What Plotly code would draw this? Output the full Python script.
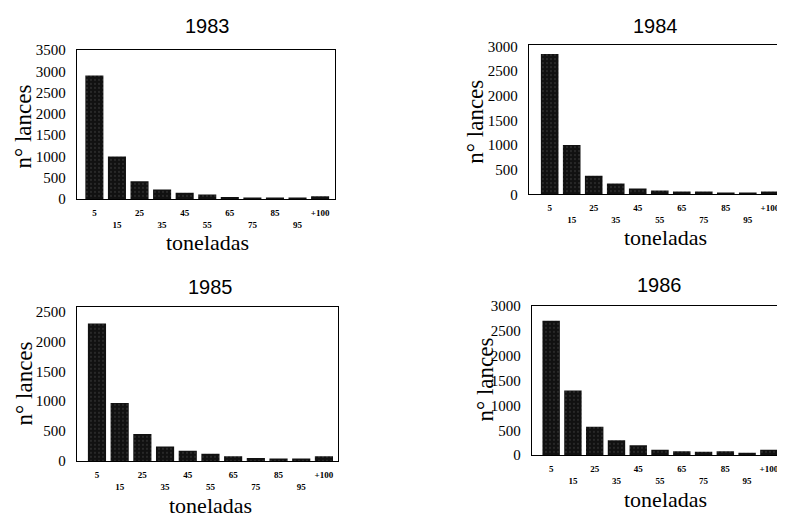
import plotly.graph_objects as go

categories = ["5", "15", "25", "35", "45", "55", "65", "75", "85", "95", "+100"]
years = ["1983", "1984", "1985", "1986"]
lances_1983 = [2900, 1000, 420, 225, 150, 110, 50, 40, 40, 40, 70]
lances_1984 = [2850, 1000, 380, 220, 120, 80, 60, 60, 40, 40, 60]
lances_1985 = [2300, 970, 450, 240, 170, 120, 80, 50, 40, 40, 80]
lances_1986 = [2700, 1300, 570, 300, 200, 110, 80, 70, 80, 50, 110]
series = [lances_1983, lances_1984, lances_1985, lances_1986]
y_tops = [3500, 3030, 2580, 3000]
x_title = "toneladas"
y_title = "n° lances"

W, H = 785, 523
OFF = 8  # page body margin offset
# plot boxes in reference pixels: left, right, top, bottom
boxes = [(77, 335, 43, 197), (529, 785, 38, 192), (77, 338, 308, 467), (532, 785, 307, 461)]
x_ranges = [[-0.77, 10.66], [-0.94, 10.69], [-0.88, 10.62], [-0.88, 10.74]]
title_pos = [(207, 18), (655, 18), (210, 288), (659, 286)]
ylab_pos = [(24, 122), (476, 117), (24, 387), (486, 383)]
xlab_pos = [(207, 242), (665, 237), (210, 513), (665, 507)]


def px(x):
    return (x - OFF) / W


def py(y):
    return 1 - (y - OFF) / H


ticktext = [c if i % 2 == 0 else "\u00a0<br>" + c for i, c in enumerate(categories)]

fig = go.Figure()
annotations = []
for k in range(4):
    l, r, t, b = boxes[k]
    sx = "" if k == 0 else str(k + 1)
    fig.add_trace(go.Bar(
        x=categories, y=series[k], xaxis="x" + sx, yaxis="y" + sx,
        marker=dict(color="#111111", line=dict(width=0),
                    pattern=dict(shape=".", fgcolor="#4a4a4a", bgcolor="#111111",
                                 size=4, solidity=0.1, fillmode="replace")),
        showlegend=False,
    ))
    right_side = k in (1, 3)
    fig.update_layout(**{
        "xaxis" + sx: dict(
            domain=[px(l), px(r)], anchor="y" + sx, type="category",
            range=x_ranges[k], tickvals=categories, ticktext=ticktext,
            showline=True, linecolor="black", linewidth=1.3, mirror=True,
            ticks="", showgrid=False, zeroline=False, ticklabelstandoff=5,
            tickfont=dict(family="Liberation Serif", size=9, color="black", weight="bold"),
            tickangle=0,
        ),
        "yaxis" + sx: dict(
            domain=[py(b), py(t)], anchor="x" + sx,
            range=[0, y_tops[k]], dtick=500, tick0=0,
            showline=True, linecolor="black", linewidth=1.3, mirror=not right_side,
            ticks="", showgrid=False, zeroline=False, ticklabelstandoff=7,
            tickfont=dict(family="Liberation Serif", size=15, color="black"),
        ),
    })
    annotations.append(dict(text=years[k], x=px(title_pos[k][0]), y=py(title_pos[k][1]),
                            xref="paper", yref="paper", showarrow=False,
                            font=dict(family="Liberation Sans", size=20, color="black"),
                            xanchor="center", yanchor="middle"))
    annotations.append(dict(text=y_title, x=px(ylab_pos[k][0]), y=py(ylab_pos[k][1]),
                            xref="paper", yref="paper", showarrow=False, textangle=-90,
                            font=dict(family="Liberation Serif", size=23, color="black"),
                            xanchor="center", yanchor="middle"))
    annotations.append(dict(text=x_title, x=px(xlab_pos[k][0]), y=py(xlab_pos[k][1]),
                            xref="paper", yref="paper", showarrow=False,
                            font=dict(family="Liberation Serif", size=22, color="black"),
                            xanchor="center", yanchor="middle"))

fig.update_layout(
    width=W, height=H, margin=dict(l=0, r=0, t=0, b=0),
    paper_bgcolor="white", plot_bgcolor="white", bargap=0.2,
    annotations=annotations,
)
fig.write_html("out.html")
